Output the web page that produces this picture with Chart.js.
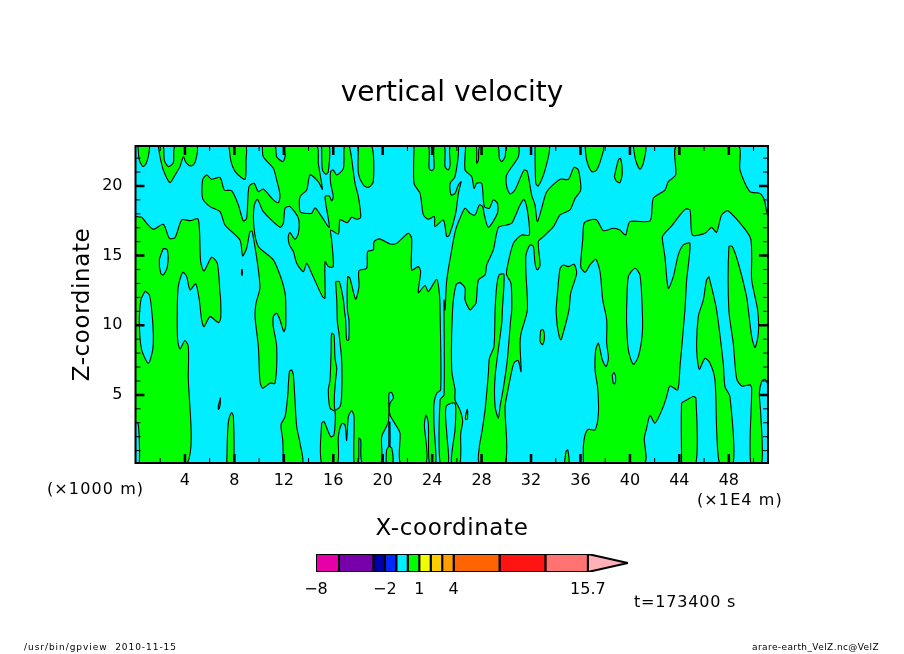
<!DOCTYPE html>
<html>
<head>
<meta charset="utf-8">
<title>vertical velocity</title>
<script src="https://cdn.jsdelivr.net/npm/chart.js@4/dist/chart.umd.min.js"></script>
<style>
  html, body { margin: 0; padding: 0; background: #fff; }
  #plot { position: absolute; left: 0; top: 0; }
  #bar { position: absolute; left: 290px; top: 545px; }
</style>
</head>
<body>
<canvas id="plot" width="904" height="654"></canvas>
<canvas id="bar" width="360" height="55"></canvas>
<script>
// axis values (x in 1E4 m, z in 1000 m)
const xRange = [0, 51.17];
const zRange = [0.11, 22.87];
const xMajor = [4, 8, 12, 16, 20, 24, 28, 32, 36, 40, 44, 48];
const xMinor = [2, 6, 10, 14, 18, 22, 26, 30, 34, 38, 42, 46, 50];
const zMajor = [5, 10, 15, 20];
const zMinor = [1, 2, 3, 4, 6, 7, 8, 9, 11, 12, 13, 14, 16, 17, 18, 19, 21, 22];

// colour levels of the legend bar
const levels = [-8, -6, -3, -2, -1, 0, 1, 2, 3, 4, 8, 12, 15.7];
const levelLabels = [-8, -2, 1, 4, 15.7];
const levelColors = ["#e600a8", "#7800aa", "#0000aa", "#0028ff", "#00eeff", "#00ff00",
  "#f0ff00", "#ffcd00", "#ffa000", "#ff6400", "#ff1414", "#ff7373"];
const overColor = "#ffb0b8";
const overTip = 19.2;

// contour regions above zero as [x, z]
const northMass = [[10.26,22.87],[10.34,22.1],[11.15,21.27],[11.42,20.43],[11.69,19.35],[11.56,18.8],[11.15,19],[10.34,19.78],[9.94,19.59],[9.59,20.19],[9.18,19.95],[8.99,17.68],[8.72,17.49],[8.32,18.64],[7.78,19.66],[7.19,19.71],[6.84,20.62],[6.16,20.48],[5.76,20.79],[5.43,20.43],[5.43,19.11],[6.03,18.52],[6.84,18.16],[7.24,17.2],[8.45,16.12],[8.67,14.98],[8.99,15.53],[9.26,16.72],[9.45,16.72],[10.07,12.77],[9.75,11.58],[9.67,10.62],[9.94,8.47],[10.07,5.96],[10.29,5.48],[10.88,5.84],[11.29,5.84],[11.42,8.47],[11.15,9.9],[11.15,10.62],[11.42,10.86],[11.69,10.38],[12,9.54],[12.15,9.9],[12.15,11.82],[12.1,12.3],[11.83,13.25],[11.15,14.69],[9.94,15.65],[9.59,16.96],[9.59,18.52],[9.86,19.04],[10.34,18.16],[11.69,17.03],[11.96,17.32],[12.1,18.4],[12.5,18.52],[13.18,17.68],[13.18,16.6],[12.9,16.17],[12.5,16.65],[12.36,16.36],[12.45,15.77],[12.77,15.29],[13.04,14.45],[13.58,13.85],[13.85,14.45],[14.25,13.73],[15.12,12.06],[15.33,11.94],[15.33,14.57],[15.6,14.21],[16,14.21],[15.87,16.12],[15.79,16.84],[16.41,16.55],[16.55,17.56],[17.14,17.37],[17.49,17.75],[17.89,17.61],[18.22,17.75],[18.03,19.23],[17.76,20.19],[17.3,22.87],[16.9,22.87],[16.82,21.27],[16.28,20.79],[16,21.15],[15.79,21.03],[15.79,20.19],[16,19.23],[15.87,18.92],[15.68,19.28],[15.33,19.23],[15.68,17.03],[15.06,17.8],[14.52,18.44],[14.25,18.04],[13.71,18.04],[13.31,18.16],[13.31,19.23],[13.85,19.71],[14.12,20.79],[14.79,20.31],[15.12,19.76],[14.79,21.63],[14.66,22.87],[12.15,22.87],[12.1,22.1],[11.91,21.75],[11.42,22.1],[11.29,22.87]];
const westMass = [[0,17.8],[0.5,17.75],[0.9,17.32],[1.44,16.89],[2.25,17.25],[2.74,16.24],[3.2,16.29],[3.74,17.56],[4.41,17.51],[5.08,17.61],[5.27,14.57],[5.54,13.9],[6.16,14.88],[6.62,14.45],[6.84,12.3],[6.89,11.82],[6.89,10.5],[6.7,10.19],[6.03,10.62],[5.54,9.9],[5.35,10.38],[5.16,11.82],[4.87,12.97],[4.41,12.54],[4.14,13.49],[3.82,13.8],[3.46,12.78],[3.38,11.1],[3.41,8.95],[3.6,8.3],[4,8.9],[4.27,8.47],[4.27,6.43],[4.19,0.11],[0,0.11]];
const topLobeA = [[0.2,22.87],[0.3,21.9],[0.6,21.4],[0.85,21.6],[1.05,22.2],[1.1,22.87]];
const topLobeB = [[1.85,22.87],[1.98,22.1],[2.25,21.15],[2.79,20.24],[3.2,20.79],[3.6,21.39],[3.87,22.1],[4.09,21.67],[4.49,21.43],[4.81,21.67],[4.95,22.87],[3.2,22.87],[3.06,21.67],[2.66,21.39],[2.33,21.86],[2.25,22.87]];
const topLobeC = [[7.56,22.87],[7.73,21.75],[8.13,20.96],[8.86,20.48],[8.94,21.86],[8.92,22.87]];
const topLobeD = [[15.06,22.87],[15.12,21.15],[15.41,20.84],[15.6,21.03],[15.68,22.87]];
const topLobeE = [[18.03,22.87],[18.03,20.91],[18.43,20.07],[18.84,19.9],[19.24,20.31],[19.11,22.87]];
const lowLobeA = [[7.38,0.11],[7.46,2.49],[7.57,3.33],[7.78,3.73],[7.92,3.44],[7.92,0.11]];
const lowLobeB = [[11.96,0.11],[11.91,1.77],[11.77,2.85],[12.1,3.44],[12.31,4.88],[12.45,6.67],[12.63,6.79],[12.77,6.43],[12.9,4.64],[13.04,2.73],[13.31,1.53],[13.5,0.11]];
const specA = [[8.58,14.0],[8.64,14.0],[8.64,13.6],[8.58,13.6]];
const specB = [[6.87,4.8],[6.85,4.3],[6.72,3.95],[6.7,4.2]];
const centreMass = [[16.19,13.13],[16.49,13.13],[16.82,11.82],[16.9,11.1],[17,10.38],[17.08,8.95],[17.25,8.95],[17.27,10.38],[17.14,11.1],[17.17,13.49],[17.35,13.37],[17.81,11.87],[18.08,12.78],[18.08,13.92],[18.7,14.09],[18.78,15.29],[19.24,15.41],[19.3,16],[19.73,16.2],[20.59,15.84],[21.13,15.88],[22.07,16.6],[22.34,16.24],[22.34,13.97],[22.88,14.21],[23.07,13.85],[22.88,12.34],[23.42,12.85],[23.69,12.42],[24.37,13.3],[24.58,12.3],[24.64,11.1],[24.69,5.36],[24.37,5.12],[24.15,4.4],[24.15,2.85],[24.29,0.11],[23.77,0.11],[23.69,2.97],[23.5,3.56],[23.37,2.85],[23.5,0.11],[21.45,0.11],[21.4,2.25],[21,2.92],[20.59,3.57],[20.59,4.4],[20.86,4.76],[20.73,5.17],[20.51,5.12],[20.46,3.08],[19.92,2.01],[19.84,0.11],[18.35,0.11],[18.22,1.77],[18.08,1.89],[18.03,0.11],[17.68,0.11],[17.68,3.44],[17.49,3.87],[17.22,3.44],[17.08,1.72],[16.95,2.85],[16.68,2.92],[16.41,2],[16.33,0.11],[15.06,0.11],[15.06,2.97],[15.25,3.09],[15.79,2],[16.06,2.13],[16.14,3.8],[15.74,4.04],[15.6,5.36],[15.74,6.07],[15.82,8.11],[15.87,9.42],[16.06,9.3],[16.14,7.63],[16.28,6.91],[16.19,6.07],[16.09,4.88],[16.14,3.92],[16.55,4.16],[16.68,5],[16.68,7.51],[16.46,9.42],[16.33,10.26],[16.28,11.82]];
const centreIslet = [[20.27,0.11],[20.32,1.05],[20.51,1.29],[20.73,1.17],[20.81,0.11]];
const centreSliver = [[20.5,3.05],[20.58,3.05],[20.58,0.9],[20.5,0.9]];
const ridgeMass = [[22.53,22.87],[22.53,20.19],[23.02,19.47],[23.29,17.92],[23.69,17.61],[24.18,17.8],[24.23,17.08],[24.91,17.56],[25.18,16.36],[25.39,16.48],[25.9,18.04],[26.12,19.47],[26.34,20.31],[26.12,20.07],[25.85,19.47],[25.53,19.35],[25.45,20.19],[25.85,20.67],[26.12,22.87],[25.45,22.87],[25.45,21.51],[25.31,21.15],[25.04,21.39],[24.99,22.87],[24.18,22.87],[24.15,21.27],[23.96,21.1],[23.75,21.27],[23.69,22.87]];
const eastBand = [[26.71,22.87],[27.55,22.87],[27.6,21.63],[27.74,21.86],[27.87,22.87],[29.3,22.87],[29.44,21.98],[29.63,21.75],[29.9,22.1],[30.03,22.87],[30.97,22.87],[30.97,22.1],[30.03,20.79],[30.03,19.95],[30.3,19.43],[30.7,19.71],[31.43,21.15],[31.7,21.03],[32.05,19.35],[32.32,18.64],[32.51,17.44],[32.86,18.4],[33.27,19.59],[34.35,20.48],[35.02,20.48],[35.48,21.34],[35.83,21.15],[36.02,19.71],[35.56,19.11],[35.15,18.28],[34.35,17.92],[33.81,17.08],[33,16.36],[32.59,16],[32.73,14.33],[32.51,13.97],[32.32,14.45],[32.19,15.65],[31.92,15.77],[31.59,15.05],[31.59,13.73],[31.7,11.1],[31.19,9.42],[31.11,8.71],[31.19,6.67],[30.97,7.46],[30.7,7.39],[30.52,7.03],[30.16,5.48],[29.9,4.16],[29.9,0.11],[27.82,0.11],[27.82,1.29],[28.01,2.25],[28.28,3.92],[28.55,6.55],[28.63,7.63],[29,8.47],[29.09,11.1],[29.22,12.78],[29.41,13.61],[29.81,13.66],[29.68,11.1],[29.63,10.14],[29.09,6.31],[29.09,4.16],[29.36,3.33],[29.49,4.16],[29.76,5.48],[30.08,7.51],[30.35,10.38],[30.44,11.1],[30.38,13.01],[30.03,13.61],[30.08,14.21],[30.57,15.88],[31.24,16.48],[31.86,16.48],[31.7,18.28],[31.43,19.04],[31.11,18.64],[30.44,17.32],[30.03,17.2],[29.36,17.03],[28.95,15.41],[28.41,14.33],[28.28,13.61],[27.74,13.25],[27.55,11.58],[27.33,11.34],[27.06,11.1],[26.66,11.82],[26.66,12.66],[26.25,13.06],[25.93,12.89],[25.65,11.1],[25.58,6.79],[25.85,5.36],[25.85,4.64],[26.25,3.92],[26.47,3.09],[26.31,2.25],[26.25,0.11],[25.58,0.11],[25.66,1.29],[25.85,2.49],[25.85,4.4],[25.12,4.16],[25.18,2.25],[25.31,0.11],[24.64,0.11],[24.64,4.64],[24.96,5],[24.96,11.82],[25.04,11.1],[25.18,13.25],[25.58,15.41],[25.9,16.84],[26.25,17.68],[26.66,18.4],[27.06,18.04],[27.47,17.92],[27.82,18.64],[28.09,18.52],[28.22,17.92],[28.55,17.03],[29.28,18.04],[29.28,18.76],[28.95,19],[28.63,18.4],[28.22,18.52],[28.01,20.19],[27.6,20.19],[27.39,19.83],[27.2,20.67],[26.66,21.15]];
const topLobeF = [[32.32,22.87],[32.38,20.19],[32.59,20],[33.13,21.15],[33.48,22.87]];
const topLobeG = [[36.37,22.87],[36.5,21.86],[36.91,21.03],[37.31,21.15],[37.72,22.1],[37.85,22.87]];
const topLobeH = [[40.27,22.87],[40.46,21.86],[40.81,21.2],[41.08,21.63],[41.27,22.87]];
const midLens = [[38.74,20.67],[39.06,21.86],[39.25,21.98],[39.38,20.91],[39.19,20.24],[38.87,20.38]];
const midLobe = [[34.02,11.1],[34.16,12.54],[34.35,14.09],[34.62,14.33],[35.02,14.21],[35.48,14.38],[35.69,13.73],[35.21,12.3],[35.07,11.1],[34.67,9.66],[34.4,8.95],[34.13,9.9]];
const specC = [[32.78,9.66],[33,9.66],[33.08,9.07],[32.94,8.6],[32.73,8.83]];
const specD = [[26.71,3.56],[26.85,3.97],[26.85,3.25],[26.69,3.25]];
const lowLobeC = [[34.7,0.11],[34.83,0.93],[34.97,1.05],[35.07,0.11]];
const farEastMass = [[36.23,0.11],[36.23,1.29],[36.37,2.13],[36.64,2.53],[37.18,2.49],[37.45,3.68],[37.39,5.48],[37.18,6.79],[37.23,8.23],[37.45,8.71],[37.77,7.51],[38.07,7.03],[38.26,7.63],[38.12,8.71],[38.12,10.38],[37.8,11.82],[37.58,13.85],[37.23,14.74],[36.77,14.33],[36.37,13.8],[36.02,14.21],[36.18,16.12],[36.29,17.32],[36.77,17.56],[37.31,17.56],[37.85,16.79],[38.66,16.96],[39.19,16.84],[39.65,16.48],[40,17.44],[41.62,17.49],[41.89,19.11],[42.83,19.71],[43.1,20.31],[43.7,20.79],[43.78,22.87],[48.77,22.87],[48.9,21.15],[49.71,19.59],[50.52,19.47],[50.87,19],[51.06,18.16],[51.17,18],[51.17,5.8],[50.93,6.12],[50.66,5.96],[50.47,5.12],[50.58,3.68],[50.66,0.11],[49.77,0.11],[49.85,5.48],[49.71,5.72],[49.04,5.64],[48.63,6.19],[48.36,8.71],[48,11.1],[48.01,15.65],[48.28,15.65],[48.77,14.45],[49.44,12.06],[49.58,11.1],[49.85,9.19],[50.12,8.4],[50.39,9.42],[50.33,11.1],[49.85,13.25],[49.85,15.05],[49.71,16.36],[47.96,18.2],[47.42,17.92],[47.01,16.67],[46.61,17.03],[46.07,16.6],[45.05,16.48],[44.86,18.28],[44.45,18.32],[43.37,17.13],[42.7,16.48],[42.62,16.24],[42.83,14.93],[43.1,12.66],[43.51,13.49],[43.91,15.05],[44.32,15.77],[44.86,15.88],[44.59,13.25],[44.45,11.1],[44.05,7.03],[43.86,5.36],[43.24,5.64],[42.97,4.88],[42.7,4.16],[42.03,2.97],[41.62,3.52],[41.35,2.61],[41.16,1.89],[41.16,0.11]];
const lowLobeD = [[44.18,0.11],[44.18,4.4],[44.45,4.57],[45.13,4.88],[45.34,4.76],[45.34,0.11]];
const lowLobeE = [[46.39,13.49],[46.66,12.54],[47.01,11.1],[47.55,7.27],[47.69,5.6],[48.09,4.88],[48.36,0.11],[47.23,0.11],[46.88,6.07],[46.48,7.27],[46.07,7.63],[45.61,6.84],[45.4,8.23],[45.53,10.62],[45.94,11.82],[46.2,13.25]];
const greenRegions = [northMass, westMass, topLobeA, topLobeB, topLobeC, topLobeD, topLobeE, lowLobeA, lowLobeB, specA, specB,
  centreMass, ridgeMass, eastBand, topLobeF, topLobeG, topLobeH, midLens, midLobe, specC, specD, lowLobeC, farEastMass, lowLobeD, lowLobeE];

// regions below zero sitting inside the green ones
const holeWestA = [[2.25,15.53],[2.58,15.41],[2.58,14.21],[2.25,13.61],[2.04,13.73],[1.93,14.69]];
const holeWestB = [[0.77,12.46],[1.12,12.18],[1.31,11.1],[1.44,9.42],[1.39,8.23],[1.04,7.27],[0.5,8.23],[0.31,10.14],[0.44,11.82]];
const holeWestC = [[0,3],[0.2,3],[0.3,1.9],[0.3,0.11],[0,0.11]];
const holeEastA = [[39.73,11.1],[39.87,13.49],[40.41,14.09],[40.81,13.61],[41,11.1],[41,9.42],[40.68,7.75],[40.27,7.2],[39.87,8.23],[39.73,10.14]];
const holeEastB = [[38.57,6.43],[38.71,6.6],[38.84,6.31],[38.79,5.79],[38.65,5.84]];
const cyanRegions = [holeWestA, holeWestB, holeWestC, holeEastA, holeEastB];
// islands back on top of a hole
const greenIslands = [centreIslet, centreSliver];

const GREEN = "#00ff00";
const CYAN = "#00eeff";

function toPoints(poly) {
  const pts = poly.map((p) => ({ x: p[0], y: p[1] }));
  pts.push({ x: poly[0][0], y: poly[0][1] });
  return pts;
}

function regionDataset(poly, color, order) {
  return {
    data: toPoints(poly),
    showLine: true,
    fill: "shape",
    backgroundColor: color,
    borderColor: "#000",
    borderWidth: 1.1,
    pointRadius: 0,
    tension: 0.25,
    order: order,
  };
}

const frameAndText = {
  id: "frameAndText",
  beforeDatasetsDraw(chart) {
    const a = chart.chartArea;
    chart.ctx.fillStyle = CYAN;
    chart.ctx.fillRect(a.left, a.top, a.right - a.left, a.bottom - a.top);
  },
  afterDatasetsDraw(chart) {
    const ctx = chart.ctx;
    const a = chart.chartArea;
    const xs = chart.scales.x;
    const ys = chart.scales.y;
    ctx.save();
    ctx.strokeStyle = "#000";
    ctx.lineWidth = 2;
    ctx.strokeRect(a.left, a.top, a.right - a.left, a.bottom - a.top);

    // inward ticks on all four sides
    const tickX = (v, len, w) => {
      const px = xs.getPixelForValue(v);
      ctx.lineWidth = w;
      ctx.beginPath();
      ctx.moveTo(px, a.bottom); ctx.lineTo(px, a.bottom - len);
      ctx.moveTo(px, a.top); ctx.lineTo(px, a.top + len);
      ctx.stroke();
    };
    const tickZ = (v, len, w) => {
      const py = ys.getPixelForValue(v);
      ctx.lineWidth = w;
      ctx.beginPath();
      ctx.moveTo(a.left, py); ctx.lineTo(a.left + len, py);
      ctx.moveTo(a.right, py); ctx.lineTo(a.right - len, py);
      ctx.stroke();
    };
    xMajor.forEach((v) => tickX(v, 9, 2.5));
    xMinor.forEach((v) => tickX(v, 5, 1));
    zMajor.forEach((v) => tickZ(v, 9, 2.5));
    zMinor.forEach((v) => tickZ(v, 5, 1));

    ctx.fillStyle = "#000";
    ctx.textBaseline = "middle";
    const put = (str, x, y, size, align, spacing) => {
      ctx.font = size + 'px "DejaVu Sans"';
      ctx.letterSpacing = (spacing || 0) + "px";
      ctx.textAlign = align || "left";
      ctx.fillText(str, x, y);
    };
    put("vertical velocity", 452, 94, 28, "center", 0);
    put("X-coordinate", 452, 529, 23, "center", 0.6);
    put("(×1000 m)", 47, 490, 16, "left", 1.1);
    put("(×1E4 m)", 697, 501, 16, "left", 1.1);
    put("t=173400 s", 634, 603, 16, "left", 0.8);
    put("/usr/bin/gpview  2010-11-15", 24, 648, 9, "left", 0.95);
    put("arare-earth_VelZ.nc@VelZ", 879, 648, 9, "right", 0.4);
    ctx.translate(83, 304.5);
    ctx.rotate(-Math.PI / 2);
    put("Z-coordinate", 0, 0, 23, "center", 0.6);
    ctx.restore();
  },
};

const datasets = []
  .concat(greenRegions.map((p) => regionDataset(p, GREEN, 3)))
  .concat(cyanRegions.map((p) => regionDataset(p, CYAN, 2)))
  .concat(greenIslands.map((p) => regionDataset(p, GREEN, 1)));

new Chart(document.getElementById("plot"), {
  type: "scatter",
  data: { datasets: datasets },
  plugins: [frameAndText],
  options: {
    responsive: false,
    animation: false,
    devicePixelRatio: 1,
    layout: { padding: { top: 146, right: 136, left: 0, bottom: 0 } },
    plugins: { legend: { display: false }, tooltip: { enabled: false } },
    scales: {
      x: {
        type: "linear",
        min: xRange[0],
        max: xRange[1],
        afterFit: (s) => { s.height = 191; },
        afterBuildTicks: (s) => { s.ticks = xMajor.map((v) => ({ value: v })); },
        grid: { display: false },
        border: { display: false },
        ticks: { color: "#000", padding: 0, maxRotation: 0, autoSkip: false, font: { family: "DejaVu Sans", size: 16 } },
      },
      y: {
        type: "linear",
        min: zRange[0],
        max: zRange[1],
        afterFit: (s) => { s.width = 135.5; },
        afterBuildTicks: (s) => { s.ticks = zMajor.map((v) => ({ value: v })); },
        grid: { display: false },
        border: { display: false },
        ticks: { color: "#000", padding: 5, autoSkip: false, font: { family: "DejaVu Sans", size: 16 } },
      },
    },
  },
});

// legend bar: one rectangle per level band, with the over-range arrow
const barSets = levelColors.map((c, i) => ({
  data: [{ x: levels[i], y: 0 }, { x: levels[i + 1], y: 0 }, { x: levels[i + 1], y: 1 }, { x: levels[i], y: 1 }, { x: levels[i], y: 0 }],
  showLine: true, fill: "shape", backgroundColor: c, borderColor: "#000", borderWidth: 2, pointRadius: 0,
}));
barSets.push({
  data: [{ x: 15.7, y: 0 }, { x: overTip, y: 0.5 }, { x: 15.7, y: 1 }, { x: 15.7, y: 0 }],
  showLine: true, fill: "shape", backgroundColor: overColor, borderColor: "#000", borderWidth: 2, pointRadius: 0,
});

new Chart(document.getElementById("bar"), {
  type: "scatter",
  data: { datasets: barSets },
  options: {
    responsive: false,
    animation: false,
    devicePixelRatio: 1,
    layout: { padding: { top: 9, right: 22, left: 0, bottom: 0 } },
    plugins: { legend: { display: false }, tooltip: { enabled: false } },
    scales: {
      x: {
        type: "linear",
        min: levels[0],
        max: overTip,
        afterFit: (s) => { s.height = 28; },
        afterBuildTicks: (s) => { s.ticks = levelLabels.map((v) => ({ value: v })); },
        grid: { display: false },
        border: { display: false },
        ticks: {
          color: "#000", padding: 0, maxRotation: 0, autoSkip: false,
          font: { family: "DejaVu Sans", size: 16 },
          callback: (v) => String(v).replace("-", "\u2212"),
        },
      },
      y: {
        type: "linear",
        min: 0,
        max: 1,
        display: true,
        afterFit: (s) => { s.width = 26; },
        grid: { display: false },
        border: { display: false },
        ticks: { display: false },
      },
    },
  },
});
</script>
</body>
</html>
